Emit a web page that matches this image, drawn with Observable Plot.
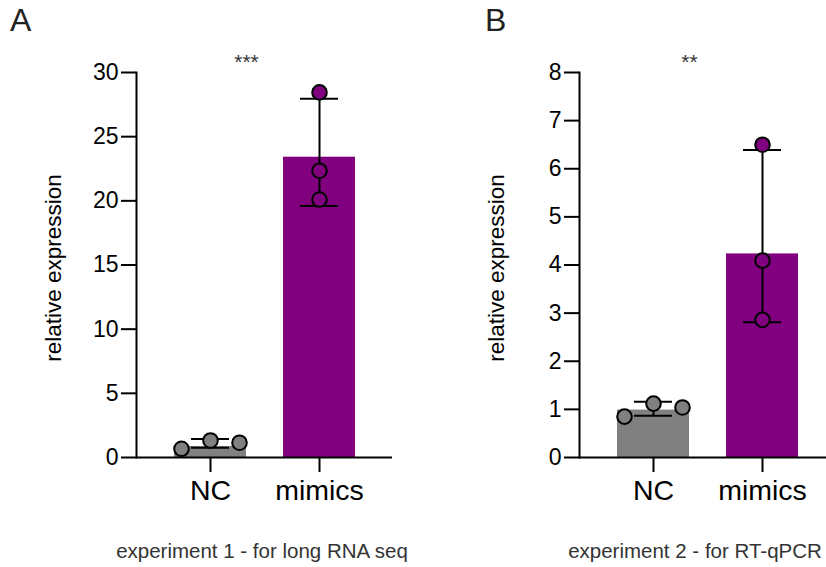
<!DOCTYPE html>
<html>
<head>
<meta charset="utf-8">
<script src="https://cdn.jsdelivr.net/npm/d3@7"></script>
<script src="https://cdn.jsdelivr.net/npm/@observablehq/plot@0.6"></script>
<style>
  html, body { margin: 0; padding: 0; background: #fff; }
  #root { position: relative; width: 826px; height: 567px; overflow: hidden; background: #fff;
          font-family: "Liberation Sans", Arial, sans-serif; }
  .panel { position: absolute; top: 0; width: 413px; }
  .panel svg { max-width: none !important; }
  .letter { position: absolute; font-size: 32px; line-height: 1; color: #222; }
  .caption { position: absolute; font-size: 20.5px; line-height: 1; color: #333; white-space: nowrap; transform: translateX(-50%); }
</style>
</head>
<body>
<div id="root">
  <div class="letter" id="letterA" style="left:10px; top:4px;">A</div>
  <div class="letter" id="letterB" style="left:485px; top:4px;">B</div>
  <div class="panel" id="panelA" style="left:0px;"></div>
  <div class="panel" id="panelB" style="left:443px;"></div>
  <div class="caption" id="capA" style="left:262px; top:541px;">experiment 1 - for long RNA seq</div>
  <div class="caption" id="capB" style="left:695px; top:541px;">experiment 2 - for RT-qPCR</div>
</div>
<script>
// ---------- data ----------
const groups = ["NC", "mimics"];
const groupColors = ["#808080", "#800080"];

// Experiment 1 (panel A)
const meanA = [0.86, 23.4];
const errLoA = [0.76, 19.6];
const errHiA = [1.45, 27.95];
const pointsNC_A = [1.33, 0.68, 1.15];
const pointsMimics_A = [28.45, 22.35, 20.1];
const yTicksA = [0, 5, 10, 15, 20, 25, 30];
const sigA = "***";

// Experiment 2 (panel B)
const meanB = [0.985, 4.23];
const errLoB = [0.87, 2.81];
const errHiB = [1.16, 6.39];
const pointsNC_B = [1.12, 0.85, 1.04];
const pointsMimics_B = [6.5, 4.09, 2.86];
const yTicksB = [0, 1, 2, 3, 4, 5, 6, 7, 8];
const sigB = "**";

const yLabel = "relative expression";

// ---------- layout ----------
const W = 413, H = 517, MT = 72, MB = 60, ML = 136, MR = 21;
const R = 7.3, SPREAD = 29;
const FONT = "Liberation Sans, Arial, sans-serif";

// place overlapping points side by side (GraphPad-like scatter)
function spreadPoints(group, values, yMax) {
  const pxPerUnit = (H - MT - MB) / yMax;
  const placed = [];
  const slots = [0, -1, 1, -2, 2];
  return values.map(v => {
    const py = v * pxPerUnit;
    let slot = 0;
    for (const s of slots) {
      if (!placed.some(p => p.slot === s && Math.abs(p.py - py) < 2 * R + 2)) { slot = s; break; }
    }
    placed.push({py, slot});
    return {group, value: v, slot};
  });
}

function makePanel(means, lo, hi, ptsNC, ptsMim, ticks, sig) {
  const yMax = ticks[ticks.length - 1];
  const bars = groups.map((g, i) => ({group: g, mean: means[i], lo: lo[i], hi: hi[i]}));
  const pts = [...spreadPoints("NC", ptsNC, yMax), ...spreadPoints("mimics", ptsMim, yMax)];
  const dotOpts = {x: "group", y: "value", r: R, fill: "group", stroke: "black", strokeWidth: 2};
  return Plot.plot({
    width: W, height: H,
    marginTop: MT, marginBottom: MB, marginLeft: ML, marginRight: MR,
    style: {fontFamily: FONT, color: "black", background: "transparent", overflow: "visible", maxWidth: "none"},
    x: {domain: groups, padding: 0.34, label: null},
    y: {domain: [0, yMax], label: null},
    color: {domain: groups, range: groupColors},
    marks: [
      Plot.barY(bars, {x: "group", y: "mean", fill: "group"}),
      Plot.ruleX(bars, {x: "group", y1: "lo", y2: "hi", stroke: "black", strokeWidth: 2}),
      Plot.tickY(bars, {x: "group", y: "lo", stroke: "black", strokeWidth: 2, insetLeft: 17, insetRight: 17}),
      Plot.tickY(bars, {x: "group", y: "hi", stroke: "black", strokeWidth: 2, insetLeft: 17, insetRight: 17}),
      Plot.dot(pts.filter(d => d.slot === 0), dotOpts),
      Plot.dot(pts.filter(d => d.slot === -1), {...dotOpts, dx: -SPREAD}),
      Plot.dot(pts.filter(d => d.slot === 1), {...dotOpts, dx: SPREAD}),
      Plot.ruleY([0], {stroke: "black", strokeWidth: 2}),
      Plot.frame({anchor: "left", stroke: "black", strokeWidth: 2}),
      Plot.axisY({ticks, tickSize: 15, tickPadding: 3, fontSize: 23, strokeWidth: 2, label: null, tickFormat: d => String(d)}),
      Plot.axisX({tickSize: 15, tickPadding: 7, fontSize: 28.5, strokeWidth: 2, label: null}),
      Plot.text([yLabel], {text: d => d, frameAnchor: "left", textAnchor: "middle", rotate: -90, dx: -83, dy: 3, fontSize: 22.5}),
      Plot.text([{group: "NC", s: sig}], {x: "group", text: "s", frameAnchor: "top", dx: 36, dy: -18, fontSize: 21, fill: "#333"})
    ]
  });
}

document.getElementById("panelA").appendChild(makePanel(meanA, errLoA, errHiA, pointsNC_A, pointsMimics_A, yTicksA, sigA));
document.getElementById("panelB").appendChild(makePanel(meanB, errLoB, errHiB, pointsNC_B, pointsMimics_B, yTicksB, sigB));
</script>
</body>
</html>
